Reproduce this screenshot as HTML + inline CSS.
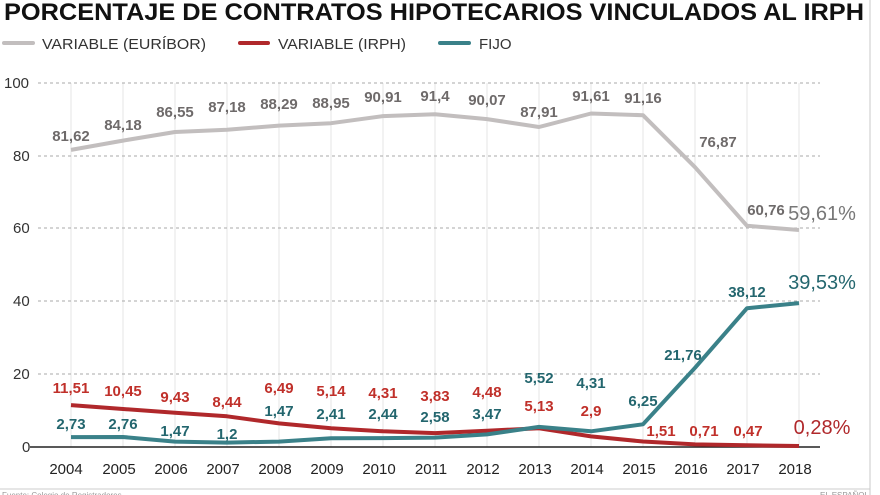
<!DOCTYPE html>
<html><head><meta charset="utf-8"><style>
html,body{margin:0;padding:0;background:#fff;}
svg{display:block;font-family:"Liberation Sans",sans-serif;}
</style></head><body>
<svg width="880" height="495" viewBox="0 0 880 495" xmlns="http://www.w3.org/2000/svg">
<rect width="880" height="495" fill="#fff"/>
<line x1="870" y1="0" x2="870" y2="495" stroke="#e4e4e4" stroke-width="2"/>
<text x="4" y="20" font-size="24" font-weight="bold" fill="#111" textLength="860" lengthAdjust="spacingAndGlyphs">PORCENTAJE DE CONTRATOS HIPOTECARIOS VINCULADOS AL IRPH</text>
<line x1="4" y1="43" x2="33" y2="43" stroke="#c2bebe" stroke-width="4" stroke-linecap="round"/>
<text x="42" y="49" font-size="15" fill="#333" textLength="164" lengthAdjust="spacingAndGlyphs">VARIABLE (EURÍBOR)</text>
<line x1="240" y1="43" x2="268" y2="43" stroke="#b0282b" stroke-width="4" stroke-linecap="round"/>
<text x="278" y="49" font-size="15" fill="#333" textLength="128" lengthAdjust="spacingAndGlyphs">VARIABLE (IRPH)</text>
<line x1="440" y1="43" x2="469" y2="43" stroke="#3a8189" stroke-width="4" stroke-linecap="round"/>
<text x="479" y="49" font-size="15" fill="#333">FIJO</text>
<g stroke="#e6e6e6" stroke-width="1">
<line x1="71" y1="83" x2="71" y2="447"/><line x1="123" y1="83" x2="123" y2="447"/><line x1="175" y1="83" x2="175" y2="447"/><line x1="227" y1="83" x2="227" y2="447"/><line x1="279" y1="83" x2="279" y2="447"/><line x1="331" y1="83" x2="331" y2="447"/><line x1="383" y1="83" x2="383" y2="447"/><line x1="435" y1="83" x2="435" y2="447"/><line x1="487" y1="83" x2="487" y2="447"/><line x1="539" y1="83" x2="539" y2="447"/><line x1="591" y1="83" x2="591" y2="447"/><line x1="643" y1="83" x2="643" y2="447"/><line x1="695" y1="83" x2="695" y2="447"/><line x1="747" y1="83" x2="747" y2="447"/><line x1="799" y1="83" x2="799" y2="447"/>
</g>
<g stroke="#aaa" stroke-width="1" stroke-dasharray="3,3">
<line x1="38" y1="83" x2="820" y2="83"/><line x1="38" y1="156" x2="820" y2="156"/><line x1="38" y1="228" x2="820" y2="228"/><line x1="38" y1="301" x2="820" y2="301"/><line x1="38" y1="374" x2="820" y2="374"/>
</g>
<line x1="30" y1="447" x2="820" y2="447" stroke="#222" stroke-width="1.5"/>
<g font-size="15" fill="#333">
<text x="4" y="88">100</text><text x="13" y="161">80</text><text x="13" y="233">60</text><text x="13" y="306">40</text><text x="13" y="379">20</text><text x="22" y="452">0</text>
</g>
<g font-size="15" fill="#222" text-anchor="middle">
<text x="66" y="474">2004</text><text x="119" y="474">2005</text><text x="171" y="474">2006</text><text x="223" y="474">2007</text><text x="275" y="474">2008</text><text x="327" y="474">2009</text><text x="379" y="474">2010</text><text x="431" y="474">2011</text><text x="483" y="474">2012</text><text x="535" y="474">2013</text><text x="587" y="474">2014</text><text x="639" y="474">2015</text><text x="691" y="474">2016</text><text x="743" y="474">2017</text><text x="795" y="474">2018</text>
</g>
<polyline fill="none" stroke="#c2bebe" stroke-width="4" stroke-linejoin="round" points="71,149.9 123,140.6 175,132 227,129.7 279,125.6 331,123.2 383,116.1 435,114.3 487,119.1 539,127 591,113.5 643,115.2 695,167.2 747,225.8 799,230"/>
<polyline fill="none" stroke="#b0282b" stroke-width="4" stroke-linejoin="round" points="71,405.1 123,409 175,412.7 227,416.3 279,423.4 331,428.3 383,431.3 435,433.1 487,430.7 539,428.3 591,436.4 643,441.5 695,444.4 747,445.3 799,446"/>
<polyline fill="none" stroke="#3a8189" stroke-width="4" stroke-linejoin="round" points="71,437.1 123,437 175,441.6 227,442.6 279,441.6 331,438.2 383,438.1 435,437.6 487,434.4 539,426.9 591,431.3 643,424.3 695,367.8 747,308.2 799,303.1"/>
<g font-size="15" font-weight="bold" fill="#6e6a6a" text-anchor="middle">
<text x="71" y="141">81,62</text><text x="123" y="130">84,18</text><text x="175" y="117">86,55</text><text x="227" y="112">87,18</text><text x="279" y="109">88,29</text><text x="331" y="108">88,95</text><text x="383" y="102">90,91</text><text x="435" y="101">91,4</text><text x="487" y="105">90,07</text><text x="539" y="117">87,91</text><text x="591" y="101">91,61</text><text x="643" y="103">91,16</text><text x="718" y="147">76,87</text><text x="766" y="215">60,76</text>
</g>
<text x="822" y="220" font-size="20" fill="#777" text-anchor="middle">59,61%</text>
<g font-size="15" font-weight="bold" fill="#c0302a" text-anchor="middle">
<text x="71" y="393">11,51</text><text x="123" y="396">10,45</text><text x="175" y="402">9,43</text><text x="227" y="407">8,44</text><text x="279" y="393">6,49</text><text x="331" y="396">5,14</text><text x="383" y="398">4,31</text><text x="435" y="401">3,83</text><text x="487" y="397">4,48</text><text x="539" y="411">5,13</text><text x="591" y="416">2,9</text><text x="661" y="436">1,51</text><text x="704" y="436">0,71</text><text x="748" y="436">0,47</text>
</g>
<text x="822" y="434" font-size="20" fill="#b0282b" text-anchor="middle">0,28%</text>
<g font-size="15" font-weight="bold" fill="#23666e" text-anchor="middle">
<text x="71" y="429">2,73</text><text x="123" y="429">2,76</text><text x="175" y="436">1,47</text><text x="227" y="439">1,2</text><text x="279" y="416">1,47</text><text x="331" y="419">2,41</text><text x="383" y="419">2,44</text><text x="435" y="422">2,58</text><text x="487" y="419">3,47</text><text x="539" y="383">5,52</text><text x="591" y="388">4,31</text><text x="643" y="406">6,25</text><text x="683" y="360">21,76</text><text x="747" y="297">38,12</text>
</g>
<text x="822" y="289" font-size="20" fill="#23666e" text-anchor="middle">39,53%</text>
<line x1="0" y1="489" x2="870" y2="489" stroke="#ccc" stroke-width="1"/>
<text x="2" y="498" font-size="8" fill="#999">Fuente: Colegio de Registradores</text>
<text x="820" y="498" font-size="8" fill="#999">EL ESPAÑOL</text>
</svg>
</body></html>
